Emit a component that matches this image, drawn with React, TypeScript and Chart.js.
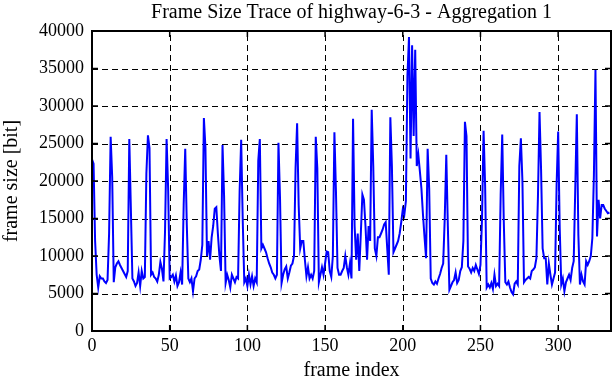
import React, { useEffect, useRef } from "react";
import { Chart, registerables } from "chart.js";

Chart.register(...registerables);

// ---- data ----
const titleText = "Frame Size Trace of highway-6-3 - Aggregation 1";
const xAxisTitle = "frame index";
const yAxisTitle = "frame size [bit]";

const frameSizes: number[] = [
  22900, 22300, 12000, 7500, 5800, 7300, 7000, 7000, 6600, 6400, 6800, 13000,
  25900, 20500, 6500, 8500, 9000, 9300, 8800, 8400, 8000, 7600, 7200, 8000,
  25600, 16400, 7000, 6600, 6000, 6400, 7800, 6000, 8000, 7000, 7200, 21000,
  26100, 24400, 7500, 7800, 7200, 7000, 6600, 7500, 9200, 8300, 6600, 13300,
  25600, 19000, 7000, 7200, 7500, 6600, 7400, 6000, 6500, 7800, 6200, 16800,
  24300, 14200, 7000, 6500, 7000, 5300, 7000, 7300, 8000, 8200, 9500, 11500,
  28400, 24500, 10000, 12000, 9500, 12500, 14000, 16300, 16500, 13000, 10000, 8000,
  24800, 18000, 6400, 7500, 6800, 5800, 7500, 7000, 6500, 7200, 7000, 18600,
  25500, 14800, 6500, 7000, 6000, 7500, 6200, 7300, 6000, 7000, 6500, 22700,
  25600, 11000, 11500, 11000, 10500, 9700, 9000, 8500, 7800, 7500, 7000, 7500,
  25100, 17700, 6400, 7500, 8200, 8600, 7000, 7800, 8700, 9000, 10000, 21700,
  27700, 16800, 11000, 12000, 12000, 9500, 7300, 8500, 7000, 7500, 7000, 8000,
  25900, 21700, 6500, 7500, 8500, 7500, 9000, 10600, 10500, 8000, 7200, 10000,
  26500, 18600, 8400, 7500, 7500, 8000, 8400, 10000, 8500, 7500, 9000, 7000,
  28300, 14000, 9500, 13000, 8000, 13000, 18200, 17500, 14000, 9500, 14000, 12000,
  29500, 22000, 11000, 10000, 12500, 12500, 13000, 13500, 14200, 14500, 11000, 7500,
  28500, 22000, 10500, 11000, 11500, 12000, 13000, 14500, 16200, 15500, 17300, 34000,
  39200, 23000, 38100, 26000, 37500, 22000, 23500, 21300, 19000, 15500, 12500, 9700,
  24300, 19000, 7000, 6400, 6200, 6600, 6300, 7000, 7600, 8400, 9000, 15000,
  23500, 14000, 5500, 6000, 6500, 6800, 7800, 6400, 6800, 8000, 8500, 12000,
  27900, 26000, 8600, 8300, 7800, 8400, 8000, 8800, 8200, 7600, 8800, 15000,
  26700, 19300, 5800, 6200, 5800, 6400, 5600, 7500, 6000, 6300, 6000, 18200,
  26200, 14600, 6500, 6200, 6600, 5800, 5200, 4900, 6300, 6600, 6200, 22000,
  25700, 20000, 6500, 6800, 7000, 7200, 7000, 8000, 8200, 8500, 9700, 18000,
  29200, 21500, 11000, 9700, 9700, 6200, 9000, 7500, 6200, 7000, 7800, 19500,
  26600, 13700, 6200, 7000, 5300, 6500, 7000, 7500, 6800, 8400, 9300, 19000,
  28900, 12800, 6200, 7500, 6600, 6200, 9300, 8800, 9300, 10000, 12400, 20800,
  34800, 12600, 17500, 15000, 16800, 16800, 16300, 16000, 15700, 15800,
];

const xTickValues = [0, 50, 100, 150, 200, 250, 300];
const xTickLabels = ["0", "50", "100", "150", "200", "250", "300"];
const yTickValues = [0, 5000, 10000, 15000, 20000, 25000, 30000, 35000, 40000];
const yTickLabels = ["0", "5000", "10000", "15000", "20000", "25000", "30000", "35000", "40000"];
const xMin = 0;
const xMax = 334;
const yMin = 0;
const yMax = 40000;

const FONT = "'Liberation Serif', 'Times New Roman', serif";

const framePlugin = {
  id: "gnuplotFrame",
  beforeDatasetsDraw(chart: any) {
    const { ctx, chartArea: a, scales } = chart;
    ctx.save();
    ctx.strokeStyle = "#000";
    ctx.lineWidth = 1;
    ctx.setLineDash([6, 4]);
    for (const v of xTickValues) {
      const px = Math.round(scales.x.getPixelForValue(v)) + 0.5;
      if (px <= a.left + 2 || px >= a.right - 2) continue;
      ctx.beginPath();
      ctx.moveTo(px, a.bottom);
      ctx.lineTo(px, a.top);
      ctx.stroke();
    }
    for (const v of yTickValues) {
      const py = Math.round(scales.y.getPixelForValue(v)) + 0.5;
      if (py <= a.top + 2 || py >= a.bottom - 2) continue;
      ctx.beginPath();
      ctx.moveTo(a.left, py);
      ctx.lineTo(a.right, py);
      ctx.stroke();
    }
    ctx.restore();
  },
  afterDatasetsDraw(chart: any) {
    const { ctx, chartArea: a, scales } = chart;
    ctx.save();
    ctx.strokeStyle = "#000";
    ctx.setLineDash([]);
    const tl = 6;
    ctx.lineWidth = 1.5;
    for (const v of xTickValues) {
      const px = scales.x.getPixelForValue(v);
      ctx.beginPath();
      ctx.moveTo(px, a.bottom);
      ctx.lineTo(px, a.bottom - tl);
      ctx.moveTo(px, a.top);
      ctx.lineTo(px, a.top + tl);
      ctx.stroke();
    }
    for (const v of yTickValues) {
      const py = scales.y.getPixelForValue(v);
      ctx.beginPath();
      ctx.moveTo(a.left, py);
      ctx.lineTo(a.left + tl, py);
      ctx.moveTo(a.right, py);
      ctx.lineTo(a.right - tl, py);
      ctx.stroke();
    }
    ctx.lineWidth = 2;
    ctx.strokeRect(a.left, a.top, a.right - a.left, a.bottom - a.top);
    ctx.restore();
  },
};

export default function App() {
  const canvasRef = useRef<HTMLCanvasElement | null>(null);

  useEffect(() => {
    if (!canvasRef.current) return;
    const points = frameSizes.map((v, i) => ({ x: i, y: v }));
    const chart = new Chart(canvasRef.current, {
      type: "line",
      data: {
        datasets: [
          {
            label: "frame size",
            data: points,
            borderColor: "#0000ff",
            borderWidth: 2,
            pointRadius: 0,
            tension: 0,
            fill: false,
          },
        ],
      },
      options: {
        animation: false,
        responsive: false,
        devicePixelRatio: 1,
        layout: { padding: { left: 0, right: 1, top: 0, bottom: 0 } },
        plugins: {
          legend: { display: false },
          tooltip: { enabled: false },
          title: {
            display: true,
            text: titleText,
            color: "#000",
            fullSize: false,
            font: { family: FONT, size: 20, weight: "normal" },
            padding: { top: 1, bottom: 6 },
          },
        },
        scales: {
          x: {
            type: "linear",
            min: xMin,
            max: xMax,
            grid: { display: false, drawTicks: false },
            border: { display: false },
            afterBuildTicks: (scale: any) => {
              scale.ticks = xTickValues.map((v) => ({ value: v }));
            },
            afterFit: (scale: any) => {
              scale.height = 51;
            },
            ticks: {
              autoSkip: false,
              maxRotation: 0,
              padding: 4,
              color: "#000",
              font: { family: FONT, size: 18 },
              callback: (v: any) => {
                const i = xTickValues.indexOf(Number(v));
                return i >= 0 ? xTickLabels[i] : "";
              },
            },
            title: {
              display: true,
              text: xAxisTitle,
              color: "#000",
              font: { family: FONT, size: 20 },
              padding: { top: 0, bottom: -1 },
            },
          },
          y: {
            type: "linear",
            min: yMin,
            max: yMax,
            grid: { display: false, drawTicks: false },
            border: { display: false },
            afterBuildTicks: (scale: any) => {
              scale.ticks = yTickValues.map((v) => ({ value: v }));
            },
            afterFit: (scale: any) => {
              scale.width = 92;
            },
            ticks: {
              autoSkip: false,
              padding: 8,
              color: "#000",
              font: { family: FONT, size: 18 },
              callback: (v: any) => {
                const i = yTickValues.indexOf(Number(v));
                return i >= 0 ? yTickLabels[i] : "";
              },
            },
            title: {
              display: true,
              text: yAxisTitle,
              color: "#000",
              font: { family: FONT, size: 20 },
              padding: { top: 0, bottom: 0 },
            },
          },
        },
      },
      plugins: [framePlugin],
    });
    return () => chart.destroy();
  }, []);

  return (
    <div style={{ position: "fixed", left: 0, top: 0, width: 612, height: 382, background: "#fff" }}>
      <canvas ref={canvasRef} width={612} height={382} style={{ width: 612, height: 382, display: "block" }} />
    </div>
  );
}
